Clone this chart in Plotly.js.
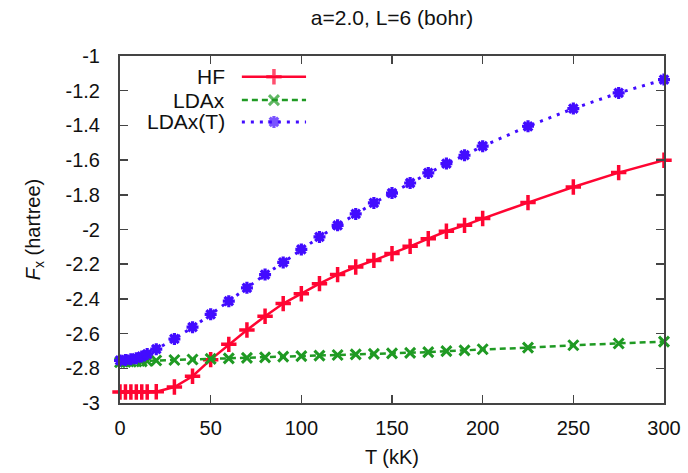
<!DOCTYPE html>
<html>
<head>
<meta charset="utf-8">
<script src="https://cdn.plot.ly/plotly-3.0.1.min.js"></script>
<style>
  html, body { margin: 0; padding: 0; background: #fff; }
  #chart { width: 688px; height: 473px; }
</style>
</head>
<body>
<div id="chart"></div>
<script>
// Temperature grid (kK)
const temperature = [0, 3, 6, 9, 12, 15, 20, 30, 40, 50, 60, 70, 80, 90, 100, 110, 120,
  130, 140, 150, 160, 170, 180, 190, 200, 225, 250, 275, 300];

// Exchange free energy F_x (hartree)
const hf = [-2.937, -2.937, -2.937, -2.937, -2.937, -2.937, -2.935, -2.908, -2.846, -2.750,
  -2.662, -2.579, -2.500, -2.427, -2.370, -2.312, -2.260, -2.216, -2.178, -2.139,
  -2.097, -2.053, -2.010, -1.976, -1.937, -1.845, -1.755, -1.672, -1.601];

const ldax = [-2.765, -2.763, -2.762, -2.761, -2.760, -2.758, -2.755, -2.752, -2.749, -2.746,
  -2.743, -2.740, -2.737, -2.733, -2.730, -2.727, -2.723, -2.720, -2.717, -2.714,
  -2.711, -2.707, -2.701, -2.697, -2.690, -2.681, -2.667, -2.657, -2.646];

const ldaxT = [-2.755, -2.752, -2.748, -2.742, -2.732, -2.718, -2.690, -2.631, -2.563, -2.489,
  -2.413, -2.336, -2.260, -2.190, -2.115, -2.043, -1.976, -1.910, -1.847, -1.790,
  -1.732, -1.674, -1.620, -1.572, -1.520, -1.405, -1.303, -1.213, -1.136];

const seriesNames = ['HF', 'LDAx', 'LDAx(T)'];

const xTickVals = [0, 50, 100, 150, 200, 250, 300];
const xTickText = ['0', '50', '100', '150', '200', '250', '300'];
const yTickVals = [-3, -2.8, -2.6, -2.4, -2.2, -2, -1.8, -1.6, -1.4, -1.2, -1];
const yTickText = ['-3', '-2.8', '-2.6', '-2.4', '-2.2', '-2', '-1.8', '-1.6', '-1.4', '-1.2', '-1'];

const FONT = 'Liberation Sans, Arial, sans-serif';
const AXIS_COLOR = '#444';
const TEXT_COLOR = '#111';

const styles = [
  { color: '#ff0532', dash: 'solid', width: 2.5, symbol: 'cross-thin', size: 11, mlw: 3.5 },
  { color: '#1f9a23', dash: '6px,4px', width: 2.5, symbol: 'x-thin', size: 10, mlw: 3 },
  { color: '#420cff', dash: '3px,6px', width: 3, symbol: 'asterisk', size: 10, mlw: 3.2 }
];
const seriesY = [hf, ldax, ldaxT];

const traces = seriesY.map((ys, i) => ({
  type: 'scatter',
  mode: 'lines+markers',
  name: seriesNames[i],
  x: temperature,
  y: ys,
  line: { color: styles[i].color, width: styles[i].width, dash: styles[i].dash },
  marker: {
    symbol: styles[i].symbol, size: styles[i].size, color: styles[i].color,
    line: { color: styles[i].color, width: styles[i].mlw }
  },
  showlegend: false,
  cliponaxis: false
}));

// Key samples drawn on a hidden unit overlay so text sits left of the sample line
const keyRows = [0.940, 0.873, 0.810];
const keyX0 = 0.224, keyX1 = 0.342;
const annotations = [];
seriesNames.forEach((name, i) => {
  const s = styles[i];
  traces.push({
    type: 'scatter', mode: 'lines+markers', xaxis: 'x2', yaxis: 'y2',
    x: [keyX0, (keyX0 + keyX1) / 2, keyX1], y: [keyRows[i], keyRows[i], keyRows[i]],
    line: { color: s.color, width: s.width, dash: s.dash },
    marker: { symbol: s.symbol, size: [0, s.size, 0], color: s.color,
      line: { color: s.color, width: s.mlw } },
    showlegend: false, hoverinfo: 'skip', cliponaxis: false
  });
  annotations.push({
    xref: 'paper', yref: 'paper', x: 0.197, y: keyRows[i],
    xanchor: 'right', yanchor: 'middle', text: name, showarrow: false,
    font: { family: FONT, size: 21, color: TEXT_COLOR }
  });
});

const layout = {
  width: 688, height: 473,
  margin: { l: 120, r: 24, t: 56, b: 70 },
  paper_bgcolor: '#fff', plot_bgcolor: '#fff',
  font: { family: FONT, size: 20, color: TEXT_COLOR },
  showlegend: false,
  title: {
    text: 'a=2.0, L=6 (bohr)', font: { family: FONT, size: 21, color: TEXT_COLOR },
    x: 0.5, xref: 'paper', xanchor: 'center', y: 0.962, yref: 'container', yanchor: 'middle'
  },
  xaxis: {
    range: [0, 300], tickmode: 'array', tickvals: xTickVals, ticktext: xTickText,
    ticks: 'inside', ticklen: 8, tickwidth: 1.5, tickcolor: AXIS_COLOR,
    showline: true, linecolor: AXIS_COLOR, linewidth: 2, mirror: 'ticks',
    showgrid: false, zeroline: false, automargin: false,
    tickfont: { family: FONT, size: 20, color: TEXT_COLOR }, ticklabelstandoff: 6,
    title: { text: 'T (kK)', font: { family: FONT, size: 20, color: TEXT_COLOR }, standoff: 12 }
  },
  yaxis: {
    range: [-3, -1], tickmode: 'array', tickvals: yTickVals, ticktext: yTickText,
    ticks: 'inside', ticklen: 8, tickwidth: 1.5, tickcolor: AXIS_COLOR,
    showline: true, linecolor: AXIS_COLOR, linewidth: 2, mirror: 'ticks',
    showgrid: false, zeroline: false, automargin: false,
    tickfont: { family: FONT, size: 20, color: TEXT_COLOR }, ticklabelstandoff: 14,
    title: { text: '<i>F</i><sub>x</sub> (hartree)', font: { family: FONT, size: 20, color: TEXT_COLOR }, standoff: 20 }
  },
  xaxis2: { overlaying: 'x', anchor: 'y2', range: [0, 1], visible: false, fixedrange: true },
  yaxis2: { overlaying: 'y', anchor: 'x2', range: [0, 1], visible: false, fixedrange: true },
  annotations: annotations
};

Plotly.newPlot('chart', traces, layout, { staticPlot: true, displayModeBar: false });
</script>
</body>
</html>
